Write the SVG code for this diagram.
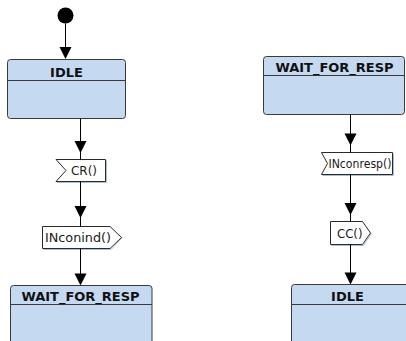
<svg xmlns="http://www.w3.org/2000/svg" xmlns:xlink="http://www.w3.org/1999/xlink" width="406" height="341" viewBox="0 0 406 341">
  <style>
    .state { fill: #C5D9F1; stroke: #3a3a3a; stroke-width: 1; }
    .divider { stroke: #3a3a3a; stroke-width: 1; fill: none; }
    .sname { font-family: "DejaVu Sans", Verdana, sans-serif; font-weight: bold; font-size: 13px; fill: #111; text-anchor: middle; }
    .signal { fill: #ffffff; stroke: #2a2a2a; stroke-width: 1; stroke-linejoin: miter; }
    .sigshadow { fill: none; stroke: #a8bdd6; stroke-width: 1; }
    .slabel { font-family: "DejaVu Sans", Verdana, sans-serif; font-size: 12.5px; fill: #1a1a1a; }
    .edge { stroke: #000; stroke-width: 1; fill: none; }
    .head { fill: #000; }
  </style>
  <defs>
    <!-- filled arrowhead, tip at the origin, pointing down -->
    <path id="ah" d="M0,0 L-6,-12 L6,-12 Z"/>
  </defs>

  <!-- initial pseudo-state -->
  <g id="initial">
    <circle cx="65.5" cy="15.5" r="8" fill="#000"/>
  </g>

  <!-- states -->
  <g id="state-idle-left">
    <rect class="state" x="7.5" y="59.5" width="118" height="59" rx="3"/>
    <line class="divider" x1="7.5" y1="80.5" x2="125.5" y2="80.5"/>
    <text class="sname" x="66.5" y="76.5">IDLE</text>
  </g>

  <g id="state-wait-left">
    <rect class="state" x="10.5" y="285.5" width="141.5" height="80" rx="3"/>
    <line class="divider" x1="10.5" y1="304.5" x2="152" y2="304.5"/>
    <text class="sname" x="80.5" y="301">WAIT_FOR_RESP</text>
  </g>

  <g id="state-wait-right">
    <rect class="state" x="263.5" y="56.5" width="141" height="58" rx="3"/>
    <line class="divider" x1="263.5" y1="75.5" x2="404.5" y2="75.5"/>
    <text class="sname" x="334.5" y="72">WAIT_FOR_RESP</text>
  </g>

  <g id="state-idle-right">
    <rect class="state" x="291.5" y="284.5" width="130" height="80" rx="3"/>
    <line class="divider" x1="291.5" y1="304.5" x2="421.5" y2="304.5"/>
    <text class="sname" x="347.5" y="300.5">IDLE</text>
  </g>

  <!-- signal receptions / sends -->
  <g id="signal-cr">
    <polyline class="sigshadow" points="106.5,160.5 106.5,182.5 57,182.5"/>
    <polygon class="signal" points="56,159.5 105.5,159.5 105.5,181.5 56,181.5 66,170.5"/>
    <text class="slabel" x="71" y="175" textLength="26" lengthAdjust="spacingAndGlyphs">CR()</text>
  </g>

  <g id="signal-inconind">
    <polyline class="sigshadow" points="122.5,237.5 111,249.5 43.5,249.5"/>
    <polygon class="signal" points="42.5,226.5 110,226.5 121.5,237.5 110,248.5 42.5,248.5"/>
    <text class="slabel" x="45" y="242" textLength="66" lengthAdjust="spacingAndGlyphs">INconind()</text>
  </g>

  <g id="signal-inconresp">
    <polyline class="sigshadow" points="393.5,153.5 393.5,175.5 322.5,175.5"/>
    <polygon class="signal" points="321.5,152.5 392.5,152.5 392.5,174.5 321.5,174.5 327.5,163.5"/>
    <text class="slabel" x="328.5" y="168" textLength="63" lengthAdjust="spacingAndGlyphs">INconresp()</text>
  </g>

  <g id="signal-cc">
    <polyline class="sigshadow" points="371.5,233 363.5,245.5 331.5,245.5"/>
    <polygon class="signal" points="330.5,221.5 362.5,221.5 370.5,233 362.5,244.5 330.5,244.5"/>
    <text class="slabel" x="337" y="237.5" textLength="25.5" lengthAdjust="spacingAndGlyphs">CC()</text>
  </g>

  <!-- transitions -->
  <g id="connectors">
    <line class="edge" x1="65.5" y1="23.5" x2="65.5" y2="48"/>
    <use href="#ah" xlink:href="#ah" class="head" x="65.5" y="59"/>

    <line class="edge" x1="80.5" y1="118.5" x2="80.5" y2="159.5"/>
    <use href="#ah" xlink:href="#ah" class="head" x="80.5" y="153"/>

    <line class="edge" x1="80.5" y1="181.5" x2="80.5" y2="226.5"/>
    <use href="#ah" xlink:href="#ah" class="head" x="80.5" y="218"/>

    <line class="edge" x1="80.5" y1="248.5" x2="80.5" y2="274"/>
    <use href="#ah" xlink:href="#ah" class="head" x="80.5" y="285.5"/>

    <line class="edge" x1="350.5" y1="114.5" x2="350.5" y2="152.5"/>
    <use href="#ah" xlink:href="#ah" class="head" x="350.5" y="145.5"/>

    <line class="edge" x1="350.5" y1="174.5" x2="350.5" y2="221.5"/>
    <use href="#ah" xlink:href="#ah" class="head" x="350.5" y="215"/>

    <line class="edge" x1="350.5" y1="244.5" x2="350.5" y2="273"/>
    <use href="#ah" xlink:href="#ah" class="head" x="350.5" y="284.5"/>
  </g>
</svg>
